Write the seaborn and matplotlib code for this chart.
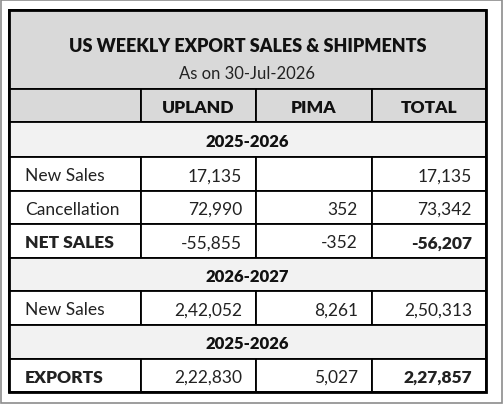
import matplotlib
matplotlib.use("Agg")
import matplotlib.pyplot as plt
from matplotlib.patches import Rectangle
import seaborn as sns

title = "US WEEKLY EXPORT SALES & SHIPMENTS"
subtitle = "As on 30-Jul-2026"
columns = ["UPLAND", "PIMA", "TOTAL"]
row_kinds = ["section", "data", "data", "bold", "section", "data", "section", "bold"]
row_labels = ["2025-2026", "New Sales", "Cancellation", "NET SALES", "2026-2027", "New Sales", "2025-2026", "EXPORTS"]
upland = ["", "17,135", "72,990", "-55,855", "", "2,42,052", "", "2,22,830"]
pima = ["", "", "352", "-352", "", "8,261", "", "5,027"]
total = ["", "17,135", "73,342", "-56,207", "", "2,50,313", "", "2,27,857"]

sns.set_theme(style="white")
plt.rcParams['font.family'] = ['Lato', 'DejaVu Sans']

fig = plt.figure(figsize=(5.03, 4.06), dpi=100)
ax = fig.add_axes([0, 0, 1, 1])
ax.set_xlim(0, 503); ax.set_ylim(406, 0); ax.axis("off")

ax.add_patch(Rectangle((0.5, 0.5), 501.5, 403.5, fill=False, ec="#8c8c8c", lw=1.2))

xs = [9, 141, 256, 372, 486]
ys = [11, 90, 123, 158, 192, 225, 259, 292, 326, 360, 393]
lw = 1.3
ax.add_patch(Rectangle((xs[0], ys[0]), xs[-1]-xs[0], ys[1]-ys[0], fc="#d9d9d9", ec="black", lw=lw))
ax.text((xs[0]+xs[-1])/2, 46, title, ha="center", va="center", fontsize=13, fontweight="heavy", color="#111")
ax.text((xs[0]+xs[-1])/2, 74, subtitle, ha="center", va="center", fontsize=12, color="#222")
for i in range(4):
    ax.add_patch(Rectangle((xs[i], ys[1]), xs[i+1]-xs[i], ys[2]-ys[1], fc="#d9d9d9", ec="black", lw=lw))
for i, c in enumerate(columns):
    ax.text((xs[i+1]+xs[i+2])/2, (ys[1]+ys[2])/2+1.5, c, ha="center", va="center", fontsize=12.5, fontweight="heavy", color="#111")

for r, kind in enumerate(row_kinds):
    y0, y1 = ys[r+2], ys[r+3]
    yc = (y0+y1)/2 + 1.5
    if kind == "section":
        ax.add_patch(Rectangle((xs[0], y0), xs[-1]-xs[0], y1-y0, fc="#f2f2f2", ec="black", lw=lw))
        ax.text((xs[0]+xs[-1])/2, yc, row_labels[r], ha="center", va="center", fontsize=12, fontweight="heavy", color="#111")
        continue
    for i in range(4):
        ax.add_patch(Rectangle((xs[i], y0), xs[i+1]-xs[i], y1-y0, fc="white", ec="black", lw=lw))
    bold = kind == "bold"
    ax.text(xs[0]+16, yc, row_labels[r], ha="left", va="center", fontsize=12.5,
            fontweight="heavy" if bold else "normal", color="#222")
    for i, v in enumerate([upland[r], pima[r], total[r]]):
        ax.text(xs[i+2]-14, yc, v, ha="right", va="center", fontsize=12.5,
                fontweight="heavy" if (bold and i == 2) else "normal", color="#222")

ax.add_patch(Rectangle((xs[0], ys[0]), xs[-1]-xs[0], ys[-1]-ys[0], fill=False, ec="black", lw=2))
fig.savefig("out.png", dpi=100)
